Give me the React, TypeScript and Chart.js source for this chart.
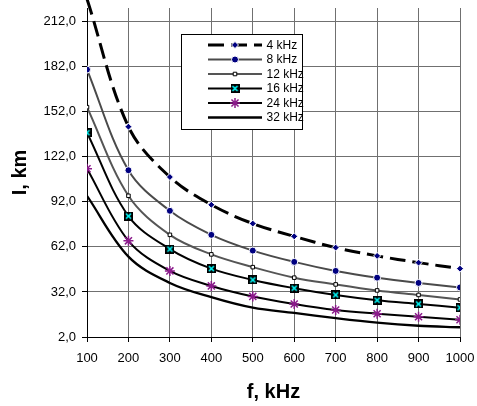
import React, { useEffect, useRef } from 'react';
import { Chart, registerables } from 'chart.js';
import { drawPoint } from 'chart.js/helpers';

Chart.register(...registerables);

// ---- data ----
const frequencies = [100, 200, 300, 400, 500, 600, 700, 800, 900, 1000];
const seriesLabels = ['4 kHz', '8 kHz', '12 kHz', '16 kHz', '24 kHz', '32 kHz'];
const length4k = [227, 142, 108.5, 90, 77.5, 69, 61.5, 56, 51.5, 47.5];
const length8k = [180, 113, 86, 70, 59.5, 52, 46, 41.5, 38, 35];
const length12k = [155, 96, 70, 57, 48.5, 41.5, 37, 33, 30, 27];
const length16k = [138, 82.5, 60.5, 47.5, 40, 34.5, 30, 26.5, 24, 21.5];
const length24k = [114, 66, 46, 36, 29, 24, 20, 17.5, 15.5, 13.5];
const length32k = [96, 55.5, 38, 28.5, 21.5, 18, 14.5, 11.5, 9.5, 8.5];
const yTickValues = [2, 32, 62, 92, 122, 152, 182, 212];
const xAxisTitle = 'f, kHz';
const yAxisTitle = 'I, km';
const yMin = 2;
const yMax = 221;

const FONT = '"Liberation Sans", Arial, sans-serif';

function makeBoxX(): HTMLCanvasElement {
  const c = document.createElement('canvas');
  c.width = 9;
  c.height = 9;
  const g = c.getContext('2d')!;
  g.fillStyle = '#000';
  g.fillRect(0, 0, 9, 9);
  g.strokeStyle = '#00ffff';
  g.lineWidth = 1.6;
  g.beginPath();
  g.moveTo(2, 2);
  g.lineTo(7, 7);
  g.moveTo(7, 2);
  g.lineTo(2, 7);
  g.stroke();
  return c;
}

const boxLegend = {
  id: 'boxLegend',
  afterDatasetsDraw(chart: any) {
    const ctx = chart.ctx as CanvasRenderingContext2D;
    ctx.save();
    const x0 = 181.5, y0 = 34.5, w = 121, h = 95;
    ctx.fillStyle = '#fff';
    ctx.fillRect(x0, y0, w, h);
    ctx.strokeStyle = '#000';
    ctx.lineWidth = 1;
    ctx.setLineDash([]);
    ctx.strokeRect(x0, y0, w, h);
    chart.data.datasets.forEach((ds: any, i: number) => {
      const y = 45 + i * 14.5;
      const meta = chart.getDatasetMeta(i);
      const lo = meta.dataset.options;
      ctx.setLineDash(lo.borderDash || []);
      ctx.lineWidth = lo.borderWidth;
      ctx.strokeStyle = lo.borderColor;
      ctx.beginPath();
      ctx.moveTo(208, y);
      ctx.lineTo(262, y);
      ctx.stroke();
      ctx.setLineDash([]);
      const po = meta.data[1].options;
      ctx.fillStyle = po.backgroundColor;
      ctx.strokeStyle = po.borderColor;
      ctx.lineWidth = po.borderWidth;
      drawPoint(ctx, { pointStyle: po.pointStyle, rotation: 0, radius: po.radius, borderWidth: po.borderWidth } as any, 235, y);
      ctx.fillStyle = '#000';
      ctx.font = `12px ${FONT}`;
      ctx.textBaseline = 'middle';
      ctx.textAlign = 'left';
      ctx.fillText(ds.label, 266.5, y + 0.5);
    });
    ctx.restore();
  },
};

export default function App() {
  const ref = useRef<HTMLCanvasElement | null>(null);

  useEffect(() => {
    if (!ref.current) return;
    const boxX = makeBoxX();
    const pts = (arr: number[]) => arr.map((v, i) => ({ x: frequencies[i], y: v }));
    const chart = new Chart(ref.current, {
      type: 'line',
      data: {
        datasets: [
          {
            label: seriesLabels[0],
            data: pts(length4k),
            borderColor: '#000',
            borderWidth: 3,
            borderDash: [16, 7],
            pointStyle: 'rectRot',
            pointRadius: (c: any) => (c.parsed && c.parsed.y > yMax ? 0 : 3.5),
            pointBackgroundColor: '#000080',
            pointBorderColor: '#ffffff',
            pointBorderWidth: 1,
            clip: false as any,
          },
          {
            label: seriesLabels[1],
            data: pts(length8k),
            borderColor: '#4a4a4a',
            borderWidth: 2,
            pointStyle: 'circle',
            pointRadius: 3.5,
            pointBackgroundColor: '#000080',
            pointBorderColor: '#ffffff',
            pointBorderWidth: 1,
          },
          {
            label: seriesLabels[2],
            data: pts(length12k),
            borderColor: '#555555',
            borderWidth: 2,
            pointStyle: 'rect',
            pointRadius: 2.5,
            pointBackgroundColor: '#ffffff',
            pointBorderColor: '#000000',
            pointBorderWidth: 1,
          },
          {
            label: seriesLabels[3],
            data: pts(length16k),
            borderColor: '#000',
            borderWidth: 2,
            pointStyle: boxX as any,
            pointRadius: 4,
            pointBackgroundColor: '#000',
            pointBorderColor: '#000',
            pointBorderWidth: 0,
          },
          {
            label: seriesLabels[4],
            data: pts(length24k),
            borderColor: '#000',
            borderWidth: 2,
            pointStyle: 'star',
            pointRadius: 5,
            pointBackgroundColor: '#8b1a8b',
            pointBorderColor: '#8b1a8b',
            pointBorderWidth: 1.5,
          },
          {
            label: seriesLabels[5],
            data: pts(length32k),
            borderColor: '#000',
            borderWidth: 2.3,
            pointRadius: 0,
          },
        ],
      },
      options: {
        responsive: false,
        animation: false,
        devicePixelRatio: 1,
        layout: { padding: { left: 0, right: 17, top: 8, bottom: 0 } },
        elements: { line: { tension: 0.35 } },
        plugins: { legend: { display: false }, tooltip: { enabled: false } },
        scales: {
          x: {
            type: 'linear',
            min: 100,
            max: 1000,
            afterFit: (s: any) => {
              s.height = 69;
              s.paddingLeft = 0;
              s.paddingRight = 0;
              s.paddingTop = 0;
              s.paddingBottom = 0;
            },
            ticks: {
              stepSize: 100,
              color: '#000',
              font: { family: FONT, size: 13 },
              padding: 9,
              maxRotation: 0,
              callback: (v: any) => String(v),
            },
            grid: { color: '#707070', lineWidth: 1, tickLength: 5, tickColor: '#000' },
            border: { color: '#000', width: 1 },
            title: {
              display: true,
              text: xAxisTitle,
              color: '#000',
              font: { family: FONT, size: 20, weight: 'bold' },
              padding: { top: 0, bottom: 2 },
            },
          },
          y: {
            type: 'linear',
            min: yMin,
            max: yMax,
            afterFit: (s: any) => {
              s.width = 87;
              s.paddingLeft = 0;
              s.paddingRight = 0;
              s.paddingTop = 0;
              s.paddingBottom = 0;
            },
            afterBuildTicks: (s: any) => { s.ticks = yTickValues.map((v) => ({ value: v })); },
            ticks: {
              color: '#000',
              font: { family: FONT, size: 13 },
              padding: 6,
              callback: (v: any) => Number(v).toFixed(1).replace('.', ','),
            },
            grid: { color: '#707070', lineWidth: 1, tickLength: 5, tickColor: '#000' },
            border: { color: '#000', width: 1 },
            title: {
              display: true,
              text: yAxisTitle,
              color: '#000',
              font: { family: FONT, size: 20, weight: 'bold' },
              padding: { top: 8, bottom: 0 },
            },
          },
        },
      } as any,
      plugins: [boxLegend],
    });
    return () => chart.destroy();
  }, []);

  return (
    <div style={{ position: 'fixed', left: 0, top: 0, width: 477, height: 406, background: '#fff' }}>
      <canvas ref={ref} width={477} height={406} style={{ display: 'block' }} />
    </div>
  );
}
